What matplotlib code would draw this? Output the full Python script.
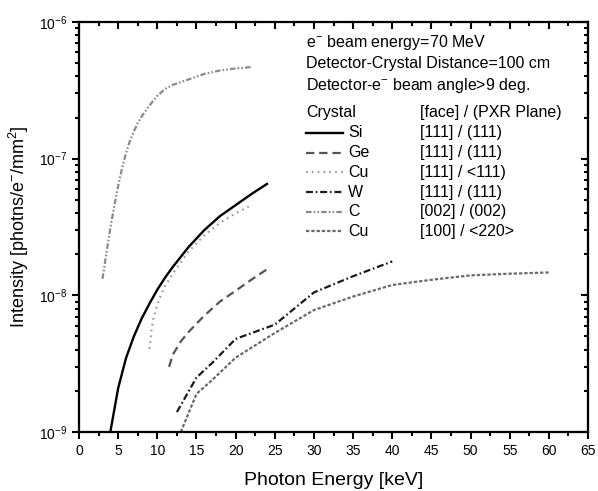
import numpy as np
import matplotlib
matplotlib.use("Agg")
import matplotlib.pyplot as plt
from matplotlib.ticker import FixedLocator, LogLocator, NullFormatter, FuncFormatter

plt.rcParams['font.family'] = ['Liberation Sans', 'DejaVu Sans']
plt.rcParams['mathtext.fontset'] = 'custom'
plt.rcParams['mathtext.rm'] = 'Liberation Sans'
plt.rcParams['mathtext.it'] = 'Liberation Sans'
plt.rcParams['lines.scale_dashes'] = False

# data (keV, photons/e-/mm^2)
si_x = [4, 5, 6, 7, 8, 9, 10, 11, 12, 14, 16, 18, 20, 22, 24]
si_y = [1.0e-9, 2.09e-9, 3.47e-9, 5.0e-9, 6.76e-9, 8.7e-9, 1.1e-8, 1.35e-8, 1.62e-8,
        2.26e-8, 3.0e-8, 3.8e-8, 4.57e-8, 5.5e-8, 6.53e-8]

ge_x = [11.5, 12, 13, 14, 15, 16, 18, 20, 22, 24]
ge_y = [3.0e-9, 3.7e-9, 4.6e-9, 5.4e-9, 6.2e-9, 7.1e-9, 9.0e-9, 1.08e-8, 1.3e-8, 1.55e-8]

cu111_x = [9, 9.25, 9.5, 10, 10.5, 11, 12, 13, 14, 16, 18, 20, 22]
cu111_y = [4.07e-9, 5.5e-9, 6.76e-9, 8.5e-9, 1.02e-8, 1.17e-8, 1.45e-8, 1.74e-8, 2.09e-8,
           2.75e-8, 3.39e-8, 3.98e-8, 4.57e-8]

w_x = [12.5, 15, 17, 20, 25, 30, 35, 40]
w_y = [1.4e-9, 2.5e-9, 3.2e-9, 4.8e-9, 6.1e-9, 1.05e-8, 1.38e-8, 1.77e-8]

c_x = [3, 3.5, 4, 4.5, 5, 5.5, 6, 6.5, 7, 7.5, 8, 9, 10, 11, 12, 14, 16, 18, 20, 22]
c_y = [1.32e-8, 2.04e-8, 3.09e-8, 4.47e-8, 6.31e-8, 8.5e-8, 1.1e-7, 1.35e-7, 1.58e-7,
       1.82e-7, 2.04e-7, 2.45e-7, 2.88e-7, 3.24e-7, 3.47e-7, 3.8e-7, 4.17e-7, 4.42e-7,
       4.57e-7, 4.68e-7]

cu100_x = [13, 15, 17, 20, 25, 30, 35, 40, 45, 50, 55, 60]
cu100_y = [1.0e-9, 1.9e-9, 2.4e-9, 3.5e-9, 5.3e-9, 7.8e-9, 9.8e-9, 1.19e-8, 1.3e-8,
           1.4e-8, 1.44e-8, 1.47e-8]

crystals = ['Si', 'Ge', 'Cu', 'W', 'C', 'Cu']
planes = ['[111] / (111)', '[111] / (111)', '[111] / <111)', '[111] / (111)',
          '[002] / (002)', '[100] / <220>']

styles = [
    dict(color='black', lw=1.7, ls='-'),
    dict(color='#555555', lw=1.6, ls=(0, (6, 3.5))),
    dict(color='#9a9a9a', lw=1.6, ls=(0, (1.2, 3))),
    dict(color='#1a1a1a', lw=1.6, ls=(0, (5, 2, 1.2, 2))),
    dict(color='#8a8a8a', lw=1.6, ls=(0, (4, 1.5, 1.2, 1.5, 1.2, 1.5))),
    dict(color='#6a6a6a', lw=1.6, ls=(0, (2.4, 1.4))),
]
series = [(si_x, si_y), (ge_x, ge_y), (cu111_x, cu111_y),
          (w_x, w_y), (c_x, c_y), (cu100_x, cu100_y)]

fig = plt.figure(figsize=(5.98, 4.91), dpi=100)
ax = fig.add_axes([79/598, 1-432/491, 509/598, 410/491])

for (x, y), st in zip(series, styles):
    ax.plot(x, y, **st)

ax.set_yscale('log')
ax.set_xlim(0, 65)
ax.set_ylim(1e-9, 1e-6)

xmaj = np.arange(0, 66, 5)
xmin = np.arange(2.5, 65, 5)
ax.xaxis.set_major_locator(FixedLocator(xmaj))
ax.xaxis.set_minor_locator(FixedLocator(xmin))
ax.yaxis.set_major_locator(LogLocator(base=10, numticks=10))
ax.yaxis.set_minor_locator(LogLocator(base=10, subs=np.arange(2, 10), numticks=10))
ax.yaxis.set_minor_formatter(NullFormatter())
ax.yaxis.set_major_formatter(FuncFormatter(lambda v, p: r'$10^{%d}$' % int(round(np.log10(v)))))

for s in ax.spines.values():
    s.set_linewidth(1.5)
ax.tick_params(which='both', direction='out', width=1.5, labelsize=10)
ax.tick_params(which='major', length=5)
ax.tick_params(which='minor', length=3)

# mirrored ticks, pointing inward, on top and right
axt = ax.twiny()
axt.set_xlim(ax.get_xlim())
axt.xaxis.set_major_locator(FixedLocator(xmaj))
axt.xaxis.set_minor_locator(FixedLocator(xmin))
axt.tick_params(which='both', direction='in', width=1.5, labeltop=False)
axt.tick_params(which='major', length=5)
axt.tick_params(which='minor', length=3)

axr = ax.twinx()
axr.set_yscale('log')
axr.set_ylim(ax.get_ylim())
axr.yaxis.set_major_locator(LogLocator(base=10, numticks=10))
axr.yaxis.set_minor_locator(LogLocator(base=10, subs=np.arange(2, 10), numticks=10))
axr.tick_params(which='both', direction='in', width=1.5, labelright=False)
axr.tick_params(which='major', length=5)
axr.tick_params(which='minor', length=3)
for a in (axt, axr):
    for s in a.spines.values():
        s.set_linewidth(1.5)

ax.set_xlabel('Photon Energy [keV]', fontsize=14, labelpad=10)
ax.set_ylabel(r'Intensity [photns/e$^{-}$/mm$^{2}$]', fontsize=13, labelpad=6)

# legend / annotation block
def fy(py):
    return (432 - py) / 410

def fx(px):
    return (px - 79) / 509

fs = 11.5
ax.text(fx(306), fy(43), r'e$^{-}$ beam energy=70 MeV', transform=ax.transAxes, fontsize=fs, va='center')
ax.text(fx(306), fy(64), 'Detector-Crystal Distance=100 cm', transform=ax.transAxes, fontsize=fs, va='center')
ax.text(fx(306), fy(86), r'Detector-e$^{-}$ beam angle>9 deg.', transform=ax.transAxes, fontsize=fs, va='center')
ax.text(fx(306), fy(113), 'Crystal', transform=ax.transAxes, fontsize=fs, va='center')
ax.text(fx(420), fy(113), '[face] / (PXR Plane)', transform=ax.transAxes, fontsize=fs, va='center')

row_y = [133, 153, 172.5, 192.5, 212, 231.5]
for name, plane, st, py in zip(crystals, planes, styles, row_y):
    ax.plot([fx(306), fx(343)], [fy(py), fy(py)], transform=ax.transAxes, clip_on=False, **st)
    ax.text(fx(348), fy(py), name, transform=ax.transAxes, fontsize=fs, va='center')
    ax.text(fx(420), fy(py), plane, transform=ax.transAxes, fontsize=fs, va='center')

fig.savefig('out.png', dpi=100)
